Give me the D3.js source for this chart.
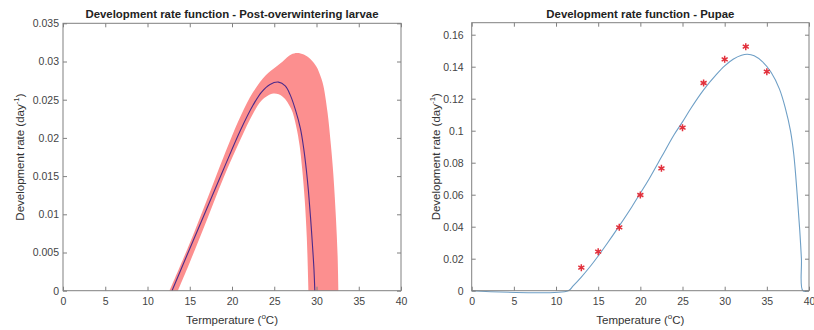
<!DOCTYPE html>
<html>
<head>
<meta charset="utf-8">
<script src="https://cdn.jsdelivr.net/npm/d3@7"></script>
<style>
  body { margin: 0; background: #fff; }
  svg { display: block; font-family: "Liberation Sans", Arial, sans-serif; }
  .tick text { fill: #444; font-size: 10.5px; }
  .tick line { stroke: #808080; }
  .domain { display: none; }
  .title { font-weight: bold; font-size: 11.4px; fill: #222; }
  .label { font-size: 11.5px; fill: #333; }
</style>
</head>
<body>
<svg id="chart" width="814" height="330"></svg>
<script>
// ---- data ----
const xTicks = [0, 5, 10, 15, 20, 25, 30, 35, 40];
const larvaeYTicks = [0, 0.005, 0.01, 0.015, 0.02, 0.025, 0.03, 0.035];
const pupaeYTicks = [0, 0.02, 0.04, 0.06, 0.08, 0.1, 0.12, 0.14, 0.16];

// post-overwintering larvae: fitted curve [temperature, rate]
const larvaeMean = [
  [12.9, 0], [15, 0.0055], [17, 0.0107], [19, 0.0159], [21, 0.021], [22.5, 0.0243],
  [23.5, 0.026], [24.5, 0.027], [25.5, 0.0273], [26.3, 0.0268], [26.9, 0.0256],
  [27.5, 0.0237], [28.1, 0.0212], [28.5, 0.0185], [28.8, 0.0158], [29.05, 0.013],
  [29.3, 0.0095], [29.55, 0.0055], [29.7, 0.0028], [29.8, 0]
];
// confidence band: upper envelope left->right, lower envelope left->right
const larvaeUpper = [
  [12.6, 0], [15, 0.0062], [17, 0.0118], [19, 0.0175], [21, 0.0228], [22.5, 0.026],
  [24, 0.0282], [25.1, 0.0292], [26, 0.03], [27, 0.0309], [27.7, 0.0311],
  [28.5, 0.0309], [29.3, 0.0303], [30, 0.0293], [30.5, 0.028], [30.8, 0.0269],
  [31.3, 0.0234], [31.7, 0.0191], [32, 0.0151], [32.3, 0.0095], [32.5, 0.0045], [32.6, 0]
];
const larvaeLower = [
  [13.6, 0], [15, 0.0037], [17, 0.0092], [19, 0.0148], [21, 0.0198], [22.5, 0.0232],
  [23.5, 0.0249], [24.9, 0.0258], [26, 0.0254], [27, 0.0238], [27.6, 0.0215],
  [28, 0.019], [28.3, 0.016], [28.6, 0.012], [28.85, 0.007], [29.05, 0]
];

// pupae: observations and fitted curve
const pupaeTemps = [13, 15, 17.5, 20, 22.5, 25, 27.5, 30, 32.5, 35];
const pupaeRates = [0.0144, 0.0244, 0.0396, 0.0598, 0.0765, 0.1019, 0.1298, 0.1446, 0.1525, 0.1369];
const pupaeCurve = [
  [0, 0], [11.46, 0], [12, 0.0028], [13, 0.0085], [14, 0.0148], [15, 0.0217], [16, 0.029],
  [17.5, 0.0405], [19, 0.0525], [20, 0.061], [21, 0.0695], [22.5, 0.0835], [24, 0.0975],
  [25, 0.1055], [26, 0.114], [27.5, 0.1255], [29, 0.135], [30, 0.1405], [31, 0.1447],
  [32, 0.1472], [32.7, 0.1478], [33.5, 0.1468], [34.5, 0.143], [35.5, 0.1365],
  [36.5, 0.126], [37.2, 0.114], [37.8, 0.1], [38.2, 0.085], [38.6, 0.06], [38.9, 0.038],
  [39.1, 0.02], [39.27, 0], [40, 0]
];

const svg = d3.select("#chart");

function fmt(d) { return d === 0 ? "0" : String(+d.toFixed(3)); }

function panel(box, yMax, yTicks, title, xText, labelGap, yLabelX) {
  const x = d3.scaleLinear().domain([0, 40]).range([box.x0, box.x1]);
  const y = d3.scaleLinear().domain([0, yMax]).range([box.y1, box.y0]);
  const g = svg.append("g");

  const plot = g.append("g");

  g.append("g").attr("transform", `translate(0,${box.y1})`)
    .call(d3.axisBottom(x).tickValues(xTicks).tickSize(-4).tickPadding(7).tickFormat(d3.format("d")));
  g.append("g").attr("transform", `translate(0,${box.y0})`)
    .call(d3.axisTop(x).tickValues(xTicks).tickSize(-4).tickFormat(""));
  g.append("g").attr("transform", `translate(${box.x0},0)`)
    .call(d3.axisLeft(y).tickValues(yTicks).tickSize(-4).tickPadding(labelGap).tickFormat(fmt));
  g.append("g").attr("transform", `translate(${box.x1},0)`)
    .call(d3.axisRight(y).tickValues(yTicks).tickSize(-4).tickFormat(""));

  g.append("rect")
    .attr("x", box.x0).attr("y", box.y0)
    .attr("width", box.x1 - box.x0).attr("height", box.y1 - box.y0)
    .attr("fill", "none").attr("stroke", "#808080").attr("stroke-width", 1);

  g.append("text").attr("class", "title")
    .attr("x", (box.x0 + box.x1) / 2).attr("y", 17.5)
    .attr("text-anchor", "middle").text(title);

  const xl = g.append("text").attr("class", "label")
    .attr("x", (box.x0 + box.x1) / 2).attr("y", 324)
    .attr("text-anchor", "middle");
  xl.append("tspan").text(xText + " (");
  xl.append("tspan").attr("dy", -5).attr("font-size", "8px").text("o");
  xl.append("tspan").attr("dy", 5).text("C)");

  const yl = g.append("text").attr("class", "label")
    .attr("transform", `translate(${yLabelX},${(box.y0 + box.y1) / 2}) rotate(-90)`)
    .attr("text-anchor", "middle");
  yl.append("tspan").text("Development rate (day");
  yl.append("tspan").attr("dy", -5).attr("font-size", "8px").text("-1");
  yl.append("tspan").attr("dy", 5).text(")");

  return { x, y, plot };
}

// ---- left panel ----
const L = panel({ x0: 63, x1: 401, y0: 23.3, y1: 290.7 }, 0.035, larvaeYTicks,
  "Development rate function - Post-overwintering larvae", "Termperature", 4, 24);

const lineL = d3.line().x(d => L.x(d[0])).y(d => L.y(d[1])).curve(d3.curveCatmullRom);
const bandPath = lineL(larvaeUpper) + "L" + lineL(larvaeLower.slice().reverse()).slice(1) + "Z";
L.plot.append("path").attr("d", bandPath).attr("fill", "#fc8f8f").attr("stroke", "none");
L.plot.append("path").datum(larvaeMean).attr("d", lineL)
  .attr("fill", "none").attr("stroke", "#4b2a8a").attr("stroke-width", 1.1);

// ---- right panel ----
const R = panel({ x0: 471.7, x1: 809, y0: 22.7, y1: 290.7 }, 0.1675, pupaeYTicks,
  "Development rate function - Pupae", "Temperature", 8, 440);

const lineR = d3.line().x(d => R.x(d[0])).y(d => R.y(d[1])).curve(d3.curveCatmullRom);
R.plot.append("path").datum(pupaeCurve).attr("d", lineR)
  .attr("fill", "none").attr("stroke", "#6e9fc6").attr("stroke-width", 1.1);

const star = d3.symbol().type(d3.symbolAsterisk).size(34);
R.plot.selectAll(".obs")
  .data(pupaeTemps.map((t, i) => [t, pupaeRates[i]]))
  .join("path")
  .attr("class", "obs")
  .attr("d", star)
  .attr("transform", d => `translate(${R.x(d[0])},${R.y(d[1])})`)
  .attr("fill", "none").attr("stroke", "#e2313c").attr("stroke-width", 1.5);
</script>
</body>
</html>
